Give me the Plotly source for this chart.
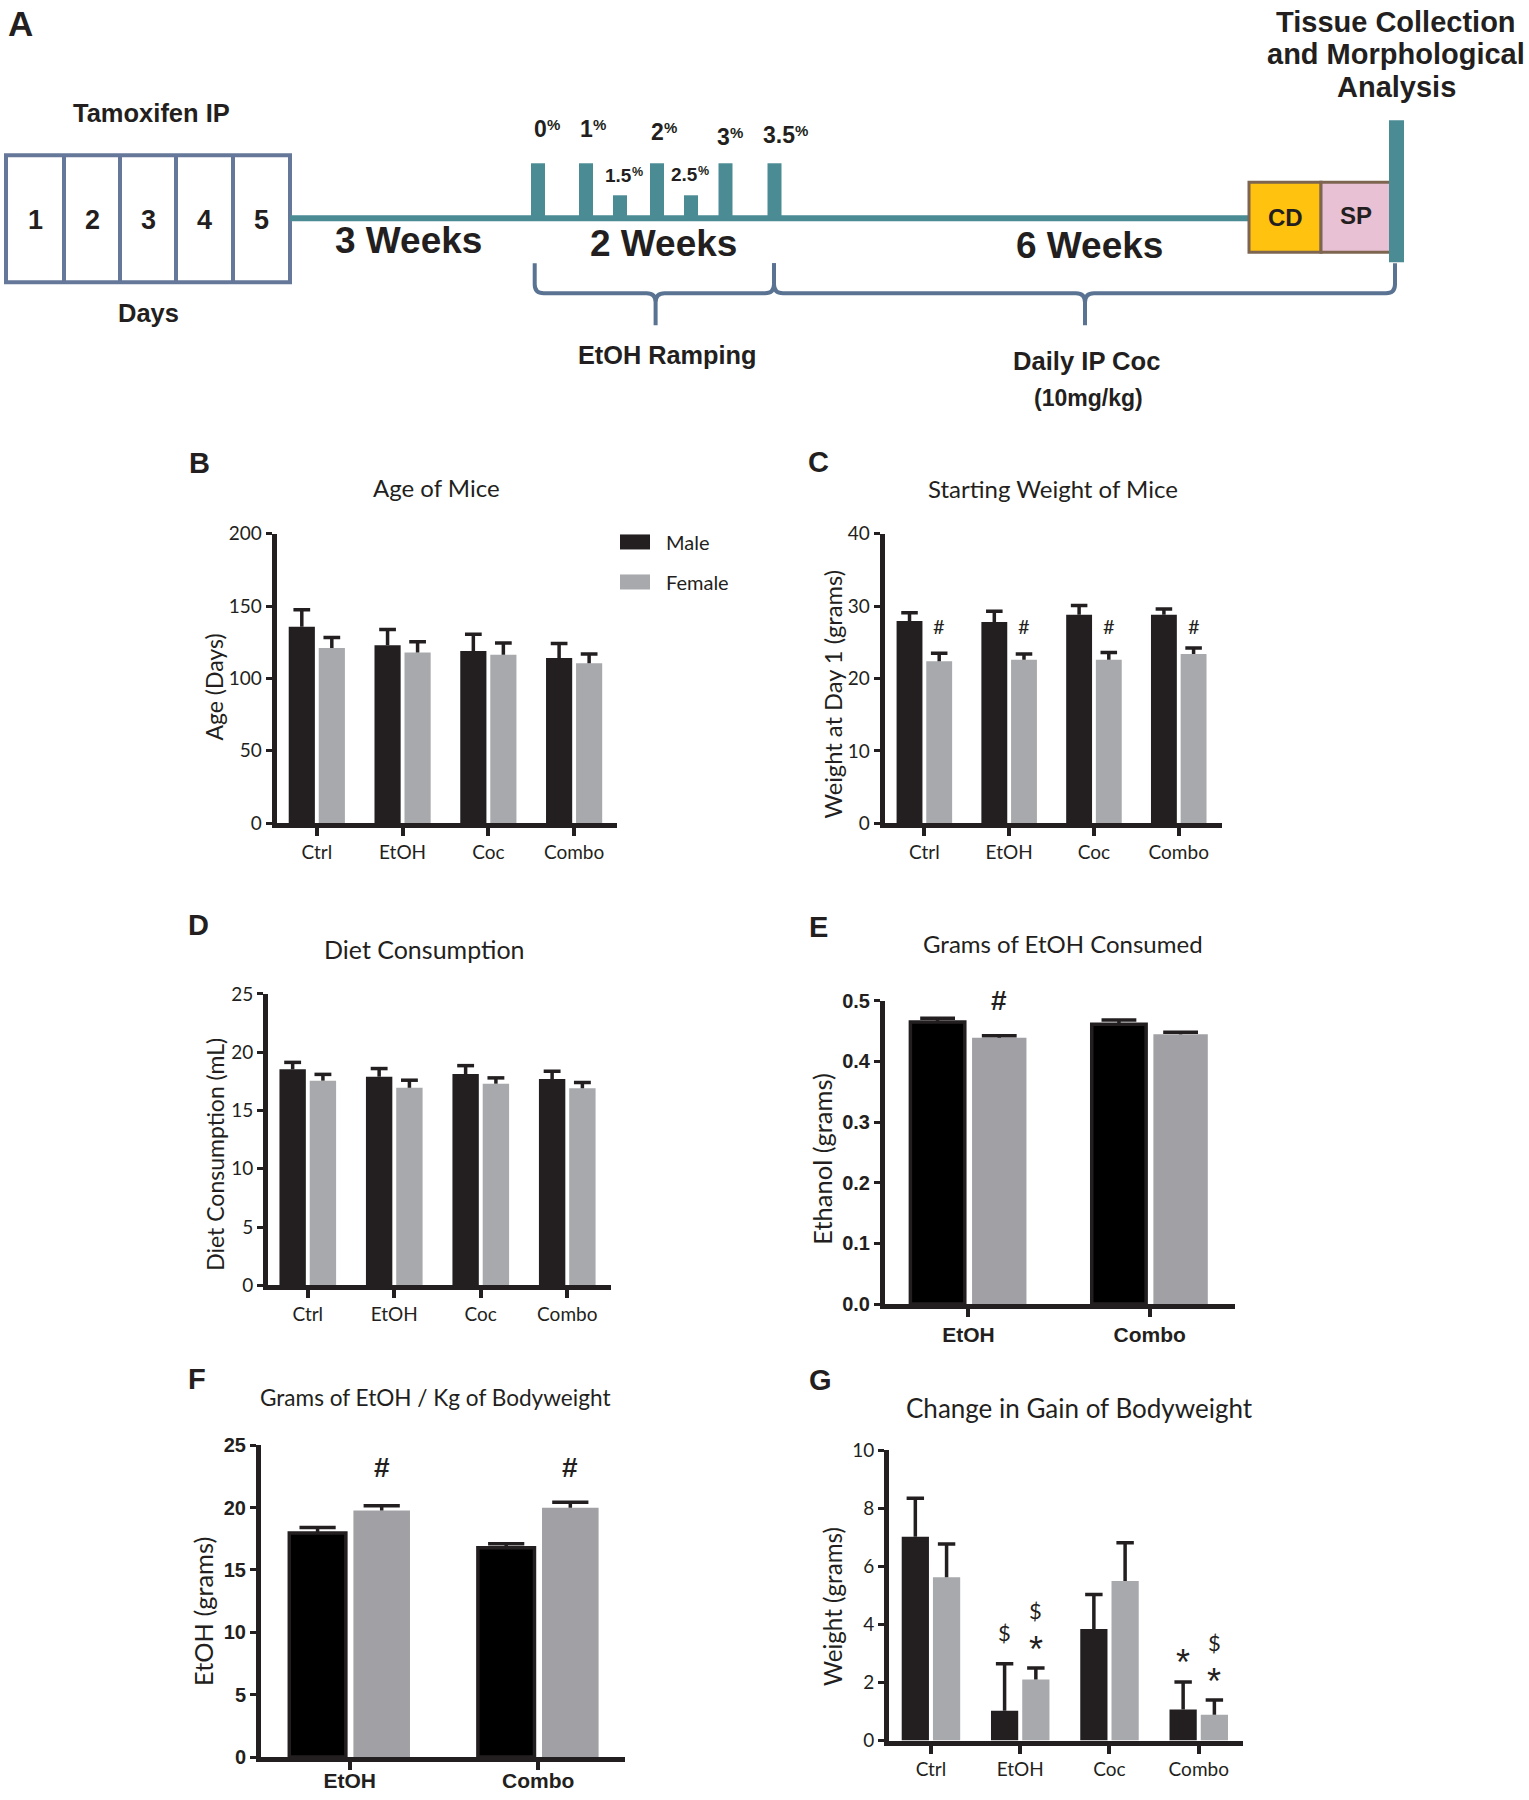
import plotly.graph_objects as go

W = 1529
H_FIG = 1800
# measured vertical mapping of the rendered page: shown_y = Y0 + YS * figure_y
Y0, YS = 11.8, 0.98675
DARK = "#231f20"

# ---------------- data ----------------
groups4 = ["Ctrl", "EtOH", "Coc", "Combo"]
groups2 = ["EtOH", "Combo"]

age_male = [135.7, 123.0, 119.0, 114.2]
age_male_err = [11.8, 10.9, 11.6, 10.0]
age_female = [121.0, 117.9, 116.3, 110.5]
age_female_err = [7.3, 7.4, 8.1, 6.3]

weight_male = [27.95, 27.8, 28.8, 28.8]
weight_male_err = [1.15, 1.5, 1.3, 0.8]
weight_female = [22.4, 22.6, 22.6, 23.4]
weight_female_err = [1.1, 0.8, 1.0, 0.8]

diet_male = [18.53, 17.9, 18.13, 17.7]
diet_male_err = [0.6, 0.7, 0.72, 0.66]
diet_female = [17.56, 16.95, 17.3, 16.9]
diet_female_err = [0.54, 0.65, 0.5, 0.5]

etoh_male = [0.465, 0.461]
etoh_male_err = [0.006, 0.007]
etoh_female = [0.439, 0.4445]
etoh_female_err = [0.003, 0.0035]

etohkg_male = [17.97, 16.77]
etohkg_male_err = [0.43, 0.33]
etohkg_female = [19.77, 19.98]
etohkg_female_err = [0.37, 0.45]

gain_male = [7.02, 1.03, 3.84, 1.07]
gain_male_err = [1.33, 1.62, 1.19, 0.95]
gain_female = [5.63, 2.10, 5.50, 0.89]
gain_female_err = [1.14, 0.40, 1.32, 0.51]

# significance markers: (group index, sex, symbol, y value)
weight_sig = [(0, "F", "#", 27.2), (1, "F", "#", 27.2), (2, "F", "#", 27.2), (3, "F", "#", 27.2)]
etoh_sig = [(0, "F", "#", 0.4995)]
etohkg_sig = [(0, "F", "#", 23.2), (1, "F", "#", 23.2)]
gain_sig = [(1, "M", "$", 3.72), (1, "F", "$", 4.47), (1, "F", "*", 3.42),
            (3, "M", "*", 2.96), (3, "F", "$", 3.37), (3, "F", "*", 2.32)]

# timeline (panel A)
tamoxifen_days = ["1", "2", "3", "4", "5"]
ramp_pct = ["0", "1", "1.5", "2", "2.5", "3", "3.5"]
ramp_tall = [True, True, False, True, False, True, True]
phase_labels = ["3 Weeks", "2 Weeks", "6 Weeks"]


def fx(p):
    return p / W


def fy(p):
    return 1 - ((p - Y0) / YS) / H_FIG


fig = go.Figure()
layout_axes = {}
ann = []
shapes = []


def text(t, x, y, size, family="Liberation Sans", bold=True, color=DARK,
         xanchor="center", angle=0, pad=1):
    ann.append(dict(text=t, x=fx(x), y=fy(y), xref="paper", yref="paper",
                    showarrow=False, xanchor=xanchor, yanchor="middle",
                    textangle=angle, borderpad=pad, borderwidth=0,
                    font=dict(family=family, size=size, color=color,
                              weight="bold" if bold else "normal")))


def panel(n, dom_x, dom_y, xr, yr, dtick, cats, m, me, f, fe, bold=False,
          tickfmt=None, sig=None, sig_size=20, xstandoff=0):
    xa = "x" if n == 1 else f"x{n}"
    ya = "y" if n == 1 else f"y{n}"
    if bold:
        bw, gap, fem = 0.30, 0.04, "#a1a1a5"
    else:
        bw, gap, fem = 0.305, 0.045, "#a7a9ac"
    xs = list(range(len(cats)))
    fig.add_trace(go.Bar(
        x=xs, y=m, width=bw, offset=-(bw + gap / 2), name="Male",
        marker=dict(color="#000000" if bold else DARK,
                    line=dict(color=DARK, width=3.5 if bold else 0)),
        xaxis=xa, yaxis=ya, showlegend=False, hoverinfo="skip"))
    fig.add_trace(go.Bar(
        x=xs, y=f, width=bw, offset=gap / 2, name="Female",
        marker=dict(color=fem, line=dict(width=0)),
        xaxis=xa, yaxis=ya, showlegend=False, hoverinfo="skip"))
    ex, ey = [], []
    cw = 0.32 * bw
    for i in xs:
        for xc, v, e in ((i - gap / 2 - bw / 2, m[i], me[i]),
                         (i + gap / 2 + bw / 2, f[i], fe[i])):
            ex += [xc, xc, None, xc - cw, xc + cw, None]
            ey += [v, v + e, None, v + e, v + e, None]
    fig.add_trace(go.Scatter(x=ex, y=ey, mode="lines",
                             line=dict(color=DARK, width=3.5),
                             xaxis=xa, yaxis=ya, showlegend=False,
                             hoverinfo="skip"))
    if bold:
        tf = dict(family="Liberation Sans", size=20, color=DARK, weight="bold")
        xtf = dict(family="Liberation Sans", size=21, color=DARK, weight="bold")
    else:
        tf = dict(family="Lato", size=19, color=DARK)
        xtf = dict(family="Lato", size=19, color=DARK)
    common = dict(showline=True, linewidth=5, linecolor=DARK, ticks="outside",
                  tickcolor=DARK, showgrid=False, zeroline=False, fixedrange=True)
    xdict = dict(domain=[fx(dom_x[0]), fx(dom_x[1])], range=xr, anchor=ya,
                 tickmode="array", tickvals=xs, ticktext=cats, ticklen=8,
                 tickwidth=4, tickfont=xtf, **common)
    if xstandoff:
        xdict["ticklabelstandoff"] = xstandoff
    layout_axes["xaxis" if n == 1 else f"xaxis{n}"] = xdict
    ydict = dict(domain=[fy(dom_y[1]), fy(dom_y[0])], range=yr, anchor=xa,
                 tick0=0, dtick=dtick, ticklen=6, tickwidth=3, tickfont=tf,
                 **common)
    if tickfmt:
        ydict["tickformat"] = tickfmt
    layout_axes["yaxis" if n == 1 else f"yaxis{n}"] = ydict
    if sig:
        for gi, sex, sym, yv in sig:
            xc = gi - gap / 2 - bw / 2 if sex == "M" else gi + gap / 2 + bw / 2
            star = sym == "*"
            ann.append(dict(text=sym, x=xc, y=yv, xref=xa, yref=ya,
                            showarrow=False, xanchor="center", yanchor="middle",
                            yshift=-8 if star else 0,
                            font=dict(family="Liberation Sans" if (bold or star) else "Lato",
                                      size=36 if star else sig_size, color=DARK,
                                      weight="bold" if bold else "normal")))


# ---------------- panels B-G ----------------
panel(1, (276.5, 617), (533.3, 822.5), [-0.47, 3.5], [0, 200], 50, groups4,
      age_male, age_male_err, age_female, age_female_err)
panel(2, (884.5, 1222), (533.3, 822.7), [-0.47, 3.51], [0, 40], 10, groups4,
      weight_male, weight_male_err, weight_female, weight_female_err,
      sig=weight_sig, sig_size=20)
panel(3, (268, 610.5), (993.3, 1284.5), [-0.46, 3.5], [0, 25], 5, groups4,
      diet_male, diet_male_err, diet_female, diet_female_err)
panel(4, (885, 1235), (1000, 1303.3), [-0.46, 1.47], [0, 0.5], 0.1, groups2,
      etoh_male, etoh_male_err, etoh_female, etoh_female_err, bold=True,
      tickfmt=".1f", sig=etoh_sig, sig_size=28)
panel(5, (261, 625), (1444.3, 1756), [-0.47, 1.46], [0, 25], 5, groups2,
      etohkg_male, etohkg_male_err, etohkg_female, etohkg_female_err, bold=True,
      sig=etohkg_sig, sig_size=28, xstandoff=-7)
panel(6, (889, 1242.5), (1449.5, 1739.5), [-0.47, 3.49], [0, 10], 2, groups4,
      gain_male, gain_male_err, gain_female, gain_female_err,
      sig=gain_sig, sig_size=22)

# panel letters
text("A", 20, 23.5, 35)
for lt, x, y in [("B", 199.5, 463), ("C", 819, 461.5), ("D", 198, 924),
                 ("E", 819, 926.5), ("F", 196.5, 1378), ("G", 820, 1379.5)]:
    text(lt, x, y, 29)

# panel titles
for t, x, y, s in [("Age of Mice", 436, 487, 24), ("Starting Weight of Mice", 1053, 488, 24),
                   ("Diet Consumption", 425, 948, 25), ("Grams of EtOH Consumed", 1063, 943, 24),
                   ("Grams of EtOH / Kg of Bodyweight", 435, 1397, 22.6),
                   ("Change in Gain of Bodyweight", 1079, 1407, 26)]:
    text(t, x, y, s, family="Lato", bold=False)

# axis titles
for t, x, y, s in [("Age (Days)", 214, 687, 23), ("Weight at Day 1 (grams)", 833, 694, 23.7),
                   ("Diet Consumption (mL)", 215, 1154, 23), ("Ethanol (grams)", 822, 1158, 25.5),
                   ("EtOH (grams)", 203, 1611, 25.4), ("Weight (grams)", 833, 1606, 24.2)]:
    text(t, x, y, s, family="Lato", bold=False, angle=-90)

# legend (panel B)
for lbl, col, yc in [("Male", DARK, 541.5), ("Female", "#a7a9ac", 581.5)]:
    shapes.append(dict(type="rect", xref="paper", yref="paper",
                       x0=fx(620), x1=fx(650), y0=fy(yc + 7.5), y1=fy(yc - 7.5),
                       fillcolor=col, line=dict(width=0)))
    text(lbl, 665, yc, 20, family="Lato", bold=False, xanchor="left")

# ---------------- panel A : timeline ----------------
TEAL = "#4b8b94"
SLATE = "#66789a"
BRACE = "#5a7392"


def rect(x0, y0, x1, y1, fill, line_color=None, lw=0):
    shapes.append(dict(type="rect", xref="paper", yref="paper",
                       x0=fx(x0), x1=fx(x1), y0=fy(y1), y1=fy(y0),
                       fillcolor=fill,
                       line=dict(color=line_color or fill, width=lw)))


def line(x0, y0, x1, y1, color, lw):
    shapes.append(dict(type="line", xref="paper", yref="paper",
                       x0=fx(x0), x1=fx(x1), y0=fy(y0), y1=fy(y1),
                       line=dict(color=color, width=lw)))


# tamoxifen day boxes
box_x = [6, 64, 120, 176, 233, 290]
rect(box_x[0], 155, box_x[-1], 282, "white", SLATE, 4)
for xd in box_x[1:-1]:
    line(xd, 155, xd, 282, SLATE, 4)
for i, d in enumerate(tamoxifen_days):
    text(d, (box_x[i] + box_x[i + 1]) / 2, 220, 27)
text("Tamoxifen IP", 151.5, 113, 25.5)
text("Days", 148, 313, 25.5)

# main timeline with ramp steps
rect(290, 215, 1250, 221, TEAL)
ramp_x = [538, 586, 620, 657, 691, 725.5, 774.5]
for xc, tall in zip(ramp_x, ramp_tall):
    rect(xc - 7, 163 if tall else 195, xc + 7, 218, TEAL)
split_x = [547, 593, 632, 663.5, 698, 730, 795]
label_y = [128.3, 128.3, 175.7, 131.7, 174, 136.7, 135]
for sx, ly, tall, p in zip(split_x, label_y, ramp_tall, ramp_pct):
    big = 23 if tall else 19
    small = 15 if tall else 12.5
    text(p, sx, ly, big, xanchor="right", pad=0)
    text("%", sx, ly - (4.5 if tall else 3.5), small, xanchor="left", pad=0)

# CD / SP boxes and end bar
rect(1249, 182, 1321, 252, "#fec20f", "#7e6550", 3)
rect(1321, 182, 1391, 252, "#e9c1d4", "#7e6550", 3)
text("CD", 1285, 217, 24)
text("SP", 1356, 215, 24)
rect(1389, 120, 1404, 262, TEAL)

for t, x, y in zip(phase_labels, [408.5, 663.5, 1089], [240, 243.5, 245.5]):
    text(t, x, y, 37)


def brace(x0, x1, xm, ytop=263, ybar=293, ytip=325, r=9):
    def P(x, y):
        return f"{fx(x):.5f},{fy(y):.5f}"
    d = (f"M{P(x0, ytop)} L{P(x0, ybar - r)} Q{P(x0, ybar)} {P(x0 + r, ybar)} "
         f"L{P(xm - r, ybar)} Q{P(xm, ybar)} {P(xm, ybar + r)} L{P(xm, ytip)} "
         f"M{P(xm, ybar + r)} Q{P(xm, ybar)} {P(xm + r, ybar)} "
         f"L{P(x1 - r, ybar)} Q{P(x1, ybar)} {P(x1, ybar - r)} L{P(x1, ytop)}")
    shapes.append(dict(type="path", xref="paper", yref="paper", path=d,
                       line=dict(color=BRACE, width=4)))


brace(534.7, 774, 655.6)
brace(774, 1395, 1085)
text("EtOH Ramping", 667.5, 355, 25.3)
text("Daily IP Coc", 1086.5, 360.5, 25.6)
text("(10mg/kg)", 1088, 398, 23)
text("Tissue Collection", 1396, 22, 29)
text("and Morphological", 1396, 54, 29)
text("Analysis", 1396.5, 87, 29)

fig.update_layout(
    width=W, height=H_FIG, margin=dict(l=0, r=0, t=0, b=0),
    paper_bgcolor="white", plot_bgcolor="rgba(0,0,0,0)",
    barmode="overlay", showlegend=False,
    annotations=ann, shapes=shapes, **layout_axes)

fig.write_html("out.html", config=dict(displayModeBar=False),
               post_script="document.body.style.margin='0';")
